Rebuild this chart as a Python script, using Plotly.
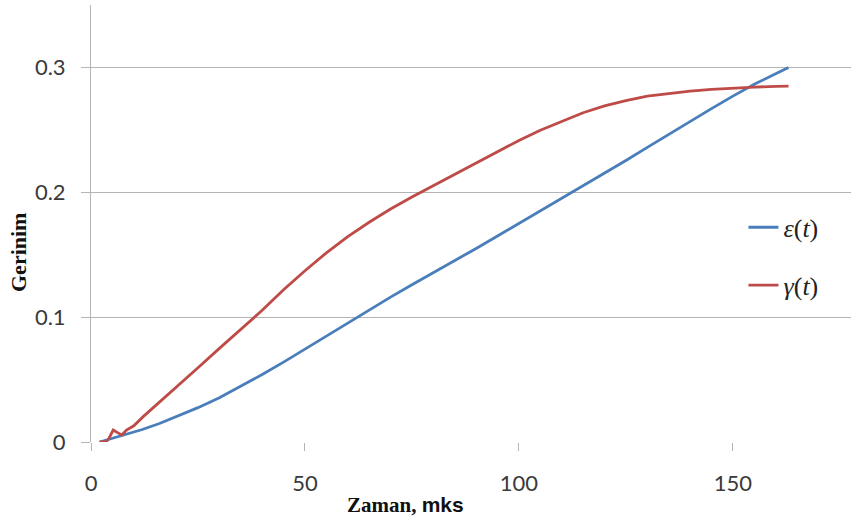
import plotly.graph_objects as go

# epsilon(t) - blue series
eps_t = [2, 5, 8, 12, 16, 20, 25, 30, 35, 40, 45, 50, 55, 60, 65, 70, 75, 80, 85, 90,
         95, 100, 105, 110, 115, 120, 125, 130, 135, 140, 145, 150, 155, 160, 163]
eps_v = [0.0, 0.003, 0.006, 0.010, 0.0148, 0.0202, 0.0275, 0.0355, 0.0445, 0.054, 0.064, 0.0745,
         0.085, 0.0955, 0.1058, 0.116, 0.126, 0.1355, 0.145, 0.155, 0.165, 0.175, 0.185,
         0.195, 0.205, 0.215, 0.2255, 0.236, 0.2465, 0.257, 0.267, 0.277, 0.2865, 0.295, 0.300]

# gamma(t) - red series
gam_t = [2, 3.5, 4.2, 5.2, 6.2, 7.2, 8.3, 10, 12.2, 15.3, 20, 25, 30, 35, 40, 45, 50, 55,
         60, 65, 70, 75, 80, 85, 90, 95, 100, 105, 110, 115, 120, 125, 130, 135, 140, 145,
         150, 155, 160, 163]
gam_v = [0.0, 0.0, 0.003, 0.0096, 0.0075, 0.0056, 0.0096, 0.013, 0.0203, 0.0296, 0.044,
         0.0595, 0.075, 0.0905, 0.1055, 0.1219, 0.1372, 0.1515, 0.1645, 0.176, 0.1866, 0.1962,
         0.2053, 0.2144, 0.2237, 0.2325, 0.2415, 0.2497, 0.257, 0.2637, 0.2692, 0.2735, 0.277,
         0.2792, 0.281, 0.2824, 0.2835, 0.2843, 0.2848, 0.285]

x_ticks = [0, 50, 100, 150]
y_ticks = [0, 0.1, 0.2, 0.3]
y_tick_text = ["0", "0.1", "0.2", "0.3"]

BLUE = "#4A7EBB"
RED = "#BE4B48"
GRID = "#b4b4b4"
TICKFONT = dict(family="Lato", size=22, color="#3a3a3a")
LEGFONT = dict(family="Liberation Serif", size=26, color="#222222")

fig = go.Figure()
fig.add_trace(go.Scatter(x=eps_t, y=eps_v, mode="lines", name="<i>ε</i>(<i>t</i>)",
                         line=dict(color=BLUE, width=2.8), legendgroup="a"))
fig.add_trace(go.Scatter(x=gam_t, y=gam_v, mode="lines", name="<i>γ</i>(<i>t</i>)",
                         line=dict(color=RED, width=2.8), legendgroup="b"))

fig.update_layout(
    width=854, height=524,
    margin=dict(l=91, r=3, t=5, b=82, autoexpand=False),
    paper_bgcolor="white", plot_bgcolor="white",
    showlegend=True,
    legend=dict(x=0.8585, y=0.545, xanchor="left", yanchor="top",
                font=LEGFONT, tracegroupgap=21, bgcolor="rgba(0,0,0,0)"),
    xaxis=dict(range=[0, 177.6], tickvals=x_ticks, showgrid=False, zeroline=False,
               showline=False, ticks="outside", ticklen=8, tickcolor=GRID, tickwidth=1,
               tickfont=TICKFONT, ticklabelstandoff=14, automargin=False),
    yaxis=dict(range=[0, 0.35], tickvals=y_ticks, ticktext=y_tick_text, showgrid=True,
               gridcolor=GRID, gridwidth=1, zeroline=False, showline=True,
               linecolor=GRID, linewidth=1, ticks="outside", ticklen=9, tickcolor=GRID,
               tickwidth=1, tickfont=TICKFONT, ticklabelstandoff=11, automargin=False),
)

fig.add_annotation(
    text="<b>Zaman, <span style='font-family:Liberation Sans'>mks</span></b>",
    xref="paper", yref="paper", x=(405 - 91) / 760, y=-(505 - 442) / 437,
    xanchor="center", yanchor="middle", showarrow=False,
    font=dict(family="Liberation Serif", size=21, color="#111111"))
fig.add_annotation(
    text="<b>Gerinim</b>",
    xref="paper", yref="paper", x=-(91 - 19) / 760, y=(442 - 253) / 437,
    xanchor="center", yanchor="middle", showarrow=False, textangle=-90,
    font=dict(family="Liberation Serif", size=22, color="#111111"))

fig.write_html("out.html", config={"displayModeBar": False},
               post_script="document.body.style.margin='0';")
